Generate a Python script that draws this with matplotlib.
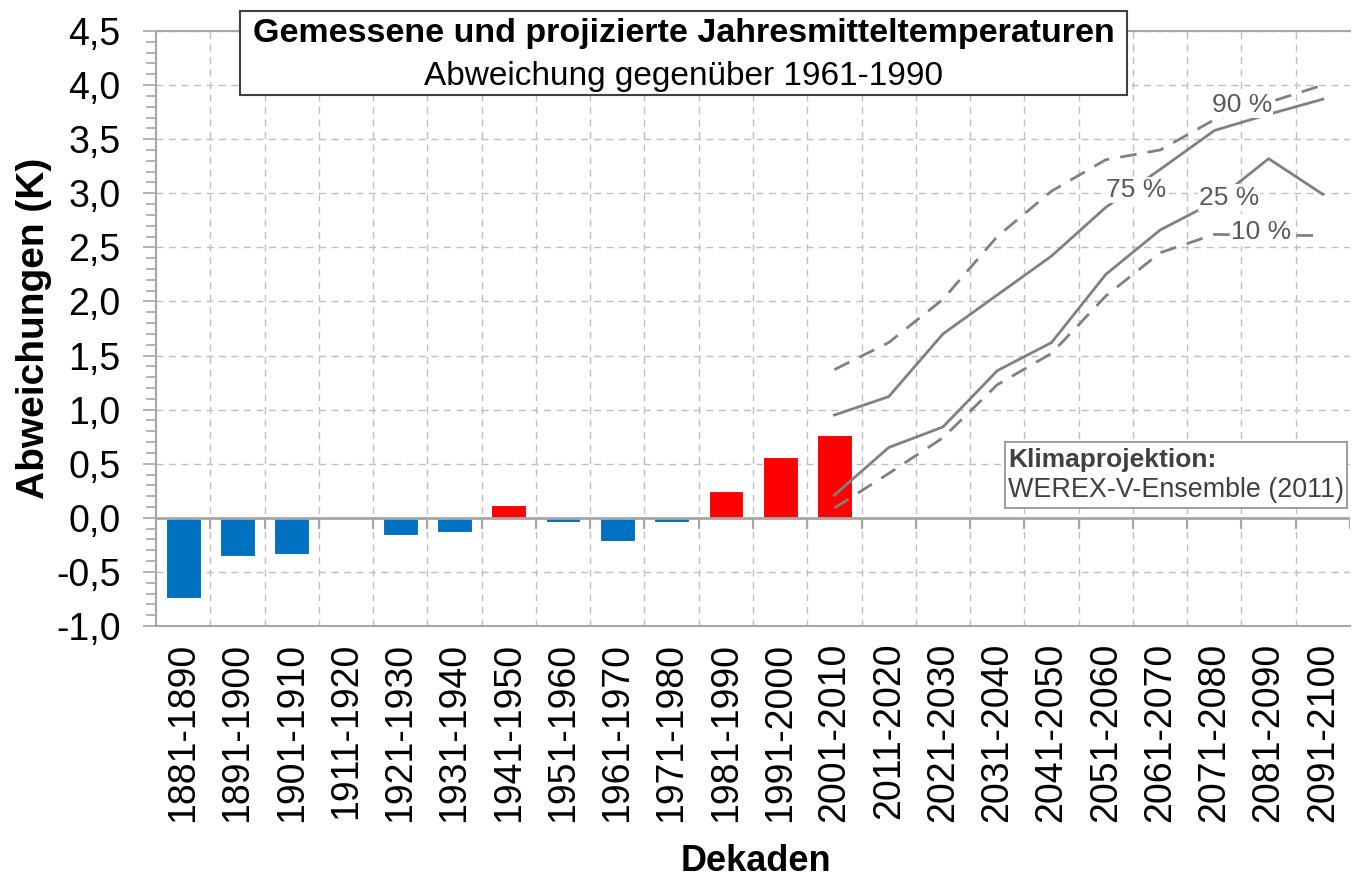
import numpy as np
import matplotlib
matplotlib.use("Agg")
import matplotlib.pyplot as plt
from matplotlib.patches import Rectangle
from matplotlib.ticker import MultipleLocator, FuncFormatter

plt.rcParams['font.family'] = ['Liberation Sans', 'DejaVu Sans']

# decades on the category axis
decades = ['1881-1890', '1891-1900', '1901-1910', '1911-1920', '1921-1930',
           '1931-1940', '1941-1950', '1951-1960', '1961-1970', '1971-1980',
           '1981-1990', '1991-2000', '2001-2010', '2011-2020', '2021-2030',
           '2031-2040', '2041-2050', '2051-2060', '2061-2070', '2071-2080',
           '2081-2090', '2091-2100']

# measured anomalies (K), 1881-1890 .. 2001-2010 (no value for 1911-1920)
measured = [-0.74, -0.35, -0.33, np.nan, -0.155, -0.13, 0.12, -0.035,
            -0.21, -0.035, 0.245, 0.56, 0.765]

# projected percentiles, 2001-2010 .. 2091-2100
proj_decades = decades[12:]
p90 = [1.37, 1.62, 2.02, 2.60, 3.02, 3.31, 3.40, 3.68, 3.84, 4.00]
p75 = [0.95, 1.12, 1.70, 2.06, 2.42, 2.87, 3.22, 3.58, 3.73, 3.87]
p25 = [0.21, 0.65, 0.84, 1.36, 1.62, 2.25, 2.66, 2.92, 3.32, 2.99]
p10 = [0.09, 0.41, 0.74, 1.23, 1.52, 2.05, 2.45, 2.62, 2.61, 2.61]

BLUE = '#0070C0'
RED = '#FF0000'
LINE = '#808080'
AXIS = '#A6A6A6'
GRID = '#BFBFBF'
LABEL = '#595959'

fig = plt.figure(figsize=(13.53, 8.76), dpi=100)
ax = fig.add_axes([0.1153, 0.2854, 0.8825, 0.6792])

x = np.arange(len(decades))
xm = x[:len(measured)]
colors = [RED if (v > 0) else BLUE for v in np.nan_to_num(measured)]
ax.bar(xm, measured, width=0.64, color=colors, edgecolor='white',
       linewidth=0.8, zorder=3)

xp = x[12:]
ax.plot(xp, p90, color=LINE, lw=2.0, ls=(0, (6, 4)), zorder=4)
ax.plot(xp, p75, color=LINE, lw=2.0, zorder=4)
ax.plot(xp, p25, color=LINE, lw=2.0, zorder=4)
ax.plot(xp, p10, color=LINE, lw=2.0, ls=(0, (6, 4)), zorder=4)

# percentile labels (white background hides the line underneath)
lbl = dict(fontsize=19, color=LABEL, ha='center', va='center', zorder=5,
           bbox=dict(facecolor='white', edgecolor='none', pad=1.0))
ax.text(19.51, 3.82, '90 %', **lbl)
ax.text(17.56, 3.03, '75 %', **lbl)
ax.text(19.27, 2.96, '25 %', **lbl)
ax.text(19.86, 2.64, '10 %', **lbl)

ax.set_xlim(-0.5, len(decades) - 0.5)
ax.set_ylim(-1.0, 4.5)

# axes styling
ax.spines['right'].set_visible(False)
for s in ['left', 'top', 'bottom']:
    ax.spines[s].set_color(AXIS)
    ax.spines[s].set_linewidth(1.5)
ax.axhline(0, color=AXIS, lw=2.0, zorder=3.5)
ax.vlines(np.arange(len(decades) + 1) - 0.5, -0.1, 0, color=AXIS, lw=1.5,
          zorder=3.5)

ax.yaxis.set_major_locator(MultipleLocator(0.5))
ax.yaxis.set_minor_locator(MultipleLocator(0.1))
ax.yaxis.set_major_formatter(FuncFormatter(lambda v, p: f"{v:.1f}".replace('.', ',')))
ax.tick_params(axis='y', which='major', direction='out', length=9.5, width=1.2,
               color=AXIS, labelsize=27, pad=16)
ax.tick_params(axis='y', which='minor', direction='out', length=7, width=1.2,
               color=AXIS)
ax.set_xticks(x)
ax.set_xticklabels(decades, rotation=90, fontsize=27)
ax.set_xticks(np.arange(1, len(decades)) - 0.5, minor=True)
ax.tick_params(axis='x', which='both', length=0, pad=12)

ax.grid(True, axis='y', which='major', color=GRID, ls=(0, (5, 4)), lw=1.0,
        zorder=0)
ax.grid(True, axis='x', which='minor', color=GRID, ls=(0, (5, 4)), lw=1.0,
        zorder=0)
ax.set_axisbelow(True)

ax.set_ylabel('Abweichungen (K)', fontsize=28, fontweight='bold')
ax.yaxis.set_label_coords(-0.087, 0.5)
ax.set_xlabel('Dekaden', fontsize=26, fontweight='bold', va='baseline')
ax.xaxis.set_label_coords(0.5025, -0.411)

# title box
fig.patches.append(Rectangle((0.1774, 0.8916), 0.6556, 0.0959,
                             transform=fig.transFigure, facecolor='white',
                             edgecolor='#404040', lw=1.5, zorder=10))
fig.text(0.5052, 0.952, 'Gemessene und projizierte Jahresmitteltemperaturen',
         ha='center', va='baseline', fontsize=24.5, fontweight='bold', zorder=11)
fig.text(0.5052, 0.903, 'Abweichung gegenüber 1961-1990',
         ha='center', va='baseline', fontsize=24, zorder=11)

# projection note box
fig.patches.append(Rectangle((0.7428, 0.4201), 0.2528, 0.0753,
                             transform=fig.transFigure, facecolor='white',
                             edgecolor='#8C8C8C', lw=1.2, zorder=10))
fig.text(0.745, 0.4749, 'Klimaprojektion:', ha='left', va='center',
         fontsize=19, fontweight='bold', color='#404040', zorder=11)
fig.text(0.745, 0.4406, 'WEREX-V-Ensemble (2011)', ha='left', va='center',
         fontsize=19.4, color='#404040', zorder=11)

fig.savefig('out.png', dpi=100)
